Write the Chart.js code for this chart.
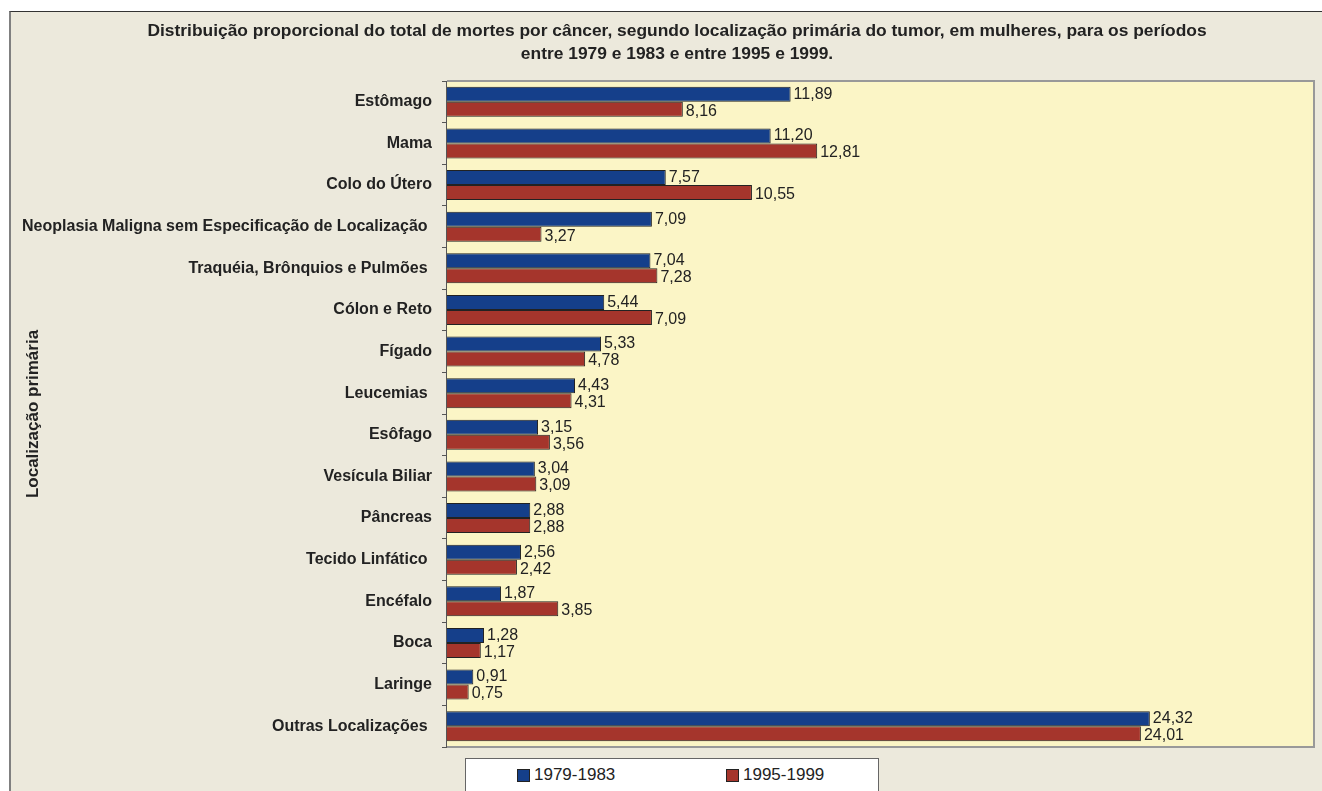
<!DOCTYPE html>
<html>
<head>
<meta charset="utf-8">
<script src="https://cdn.jsdelivr.net/npm/chart.js@4"></script>
<style>
    body { margin: 0; background: #fff; width: 1322px; height: 791px; overflow: hidden; position: relative; font-family: Arial, "Liberation Sans", sans-serif; }
    #frame { position: absolute; left: 9px; top: 11px; width: 1320px; height: 790px; background: #ece9dc; border-left: 2px solid #808080; border-top: 1px solid #333; }
    #chart { position: absolute; left: 0; top: 0; }
    #legend { position: absolute; left: 465px; top: 758px; width: 412px; height: 40px; background: #fff; border: 1px solid #666; font-size: 17px; color: #222; }
    .item { position: absolute; top: 6px; display: flex; align-items: center; }
    .sw { width: 11px; height: 11px; border: 1px solid #222; margin-right: 4px; }
</style>
</head>
<body>
<div id="frame"></div>
<canvas id="chart" width="1322" height="791"></canvas>
<div id="legend">
    <div class="item" style="left:51px"><span class="sw" style="background:#153f8a"></span>1979-1983</div>
    <div class="item" style="left:260px"><span class="sw" style="background:#a5352c"></span>1995-1999</div>
</div>
<script>
const categories = [
    'Estômago',
    'Mama',
    'Colo do Útero',
    'Neoplasia Maligna sem Especificação de Localização ',
    'Traquéia, Brônquios e Pulmões ',
    'Cólon e Reto',
    'Fígado',
    'Leucemias ',
    'Esôfago',
    'Vesícula Biliar',
    'Pâncreas',
    'Tecido Linfático ',
    'Encéfalo',
    'Boca',
    'Laringe',
    'Outras Localizações '
];
const period1Label = '1979-1983';
const period2Label = '1995-1999';
const period1 = [11.89, 11.20, 7.57, 7.09, 7.04, 5.44, 5.33, 4.43, 3.15, 3.04, 2.88, 2.56, 1.87, 1.28, 0.91, 24.32];
const period2 = [8.16, 12.81, 10.55, 3.27, 7.28, 7.09, 4.78, 4.31, 3.56, 3.09, 2.88, 2.42, 3.85, 1.17, 0.75, 24.01];
const titleLines = [
    'Distribuição proporcional do total de mortes por câncer, segundo localização primária do tumor, em mulheres, para os períodos',
    'entre 1979 e 1983 e entre 1995 e 1999.'
];

const fontFamily = 'Arial, "Liberation Sans", sans-serif';

// plot area background and frame
const plotArea = {
    id: 'plotArea',
    beforeDraw(chart) {
        const { ctx, chartArea: a } = chart;
        ctx.save();
        ctx.fillStyle = '#fbf5c6';
        ctx.fillRect(a.left, a.top, a.right - a.left, a.bottom - a.top);
        ctx.restore();
    },
    afterDraw(chart) {
        const { ctx, chartArea: a } = chart;
        ctx.save();
        ctx.strokeStyle = '#999';
        ctx.lineWidth = 2;
        ctx.beginPath();
        ctx.moveTo(a.left, a.top);
        ctx.lineTo(a.right, a.top);
        ctx.lineTo(a.right, a.bottom);
        ctx.lineTo(a.left, a.bottom);
        ctx.stroke();
        ctx.strokeStyle = '#555';
        ctx.lineWidth = 1;
        ctx.beginPath();
        ctx.moveTo(a.left - 0.5, a.top);
        ctx.lineTo(a.left - 0.5, a.bottom);
        ctx.stroke();
        ctx.restore();
    }
};

// chart title, centred over the frame rather than the canvas
const chartTitle = {
    id: 'chartTitle',
    afterDraw(chart) {
        const ctx = chart.ctx;
        ctx.save();
        ctx.font = 'bold 17.4px ' + fontFamily;
        ctx.fillStyle = '#222';
        ctx.textAlign = 'center';
        ctx.textBaseline = 'middle';
        titleLines.forEach((line, i) => ctx.fillText(line, 677, 31 + i * 23.5));
        ctx.restore();
    }
};

// value labels at the end of each bar
const barLabels = {
    id: 'barLabels',
    afterDatasetsDraw(chart) {
        const ctx = chart.ctx;
        ctx.save();
        ctx.font = '16px ' + fontFamily;
        ctx.fillStyle = '#222';
        ctx.textBaseline = 'middle';
        chart.data.datasets.forEach((ds, i) => {
            chart.getDatasetMeta(i).data.forEach((bar, j) => {
                const txt = ds.data[j].toFixed(2).replace('.', ',');
                ctx.fillText(txt, bar.x + 3, bar.y + (i === 0 ? 0 : 2));
            });
        });
        ctx.restore();
    }
};

new Chart(document.getElementById('chart'), {
    type: 'bar',
    data: {
        labels: categories,
        datasets: [
            {
                label: period1Label,
                data: period1,
                backgroundColor: '#153f8a',
                borderColor: '#222',
                borderWidth: 1,
                categoryPercentage: 0.72,
                barPercentage: 1
            },
            {
                label: period2Label,
                data: period2,
                backgroundColor: '#a5352c',
                borderColor: '#222',
                borderWidth: 1,
                categoryPercentage: 0.72,
                barPercentage: 1
            }
        ]
    },
    options: {
        indexAxis: 'y',
        responsive: false,
        animation: false,
        layout: {
            padding: { left: 10, right: 8, top: 81, bottom: 44 }
        },
        scales: {
            x: {
                display: false,
                min: 0,
                max: 30
            },
            y: {
                afterFit(scale) { scale.width = 437; },
                border: { display: false },
                grid: { drawOnChartArea: false, tickLength: 5, color: '#555' },
                ticks: {
                    font: { family: fontFamily, size: 16, weight: 'bold' },
                    color: '#222',
                    padding: 10,
                    autoSkip: false
                },
                title: {
                    display: true,
                    text: 'Localização primária',
                    font: { family: fontFamily, size: 17, weight: 'bold' },
                    color: '#222',
                    padding: { top: 13, bottom: 0 }
                }
            }
        },
        plugins: {
            legend: { display: false },
            tooltip: { enabled: false },
            title: { display: false }
        }
    },
    plugins: [plotArea, chartTitle, barLabels]
});
</script>
</body>
</html>
